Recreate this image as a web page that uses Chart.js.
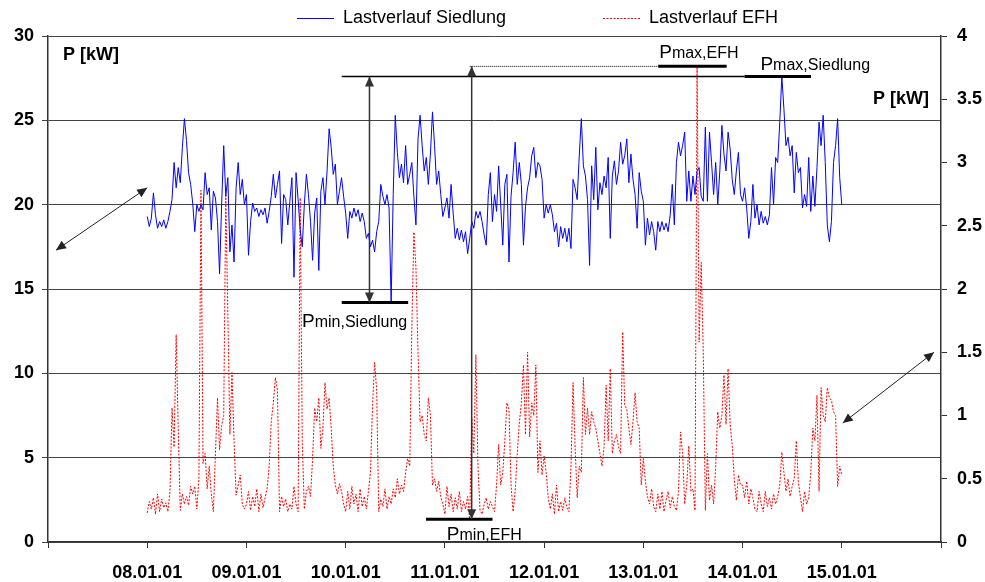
<!DOCTYPE html>
<html>
<head>
<meta charset="utf-8">
<title>Lastverlauf</title>
<script src="https://cdn.jsdelivr.net/npm/chart.js@4/dist/chart.umd.min.js"></script>
<style>
  html, body { margin: 0; padding: 0; background: #ffffff; }
  canvas { display: block; }
</style>
</head>
<body>
<canvas id="chart" width="985" height="582"></canvas>
<script>
// Day tick labels (value 0 = 08.01.01 00:00, one unit per day)
const tickLabels = ['08.01.01', '09.01.01', '10.01.01', '11.01.01', '12.01.01', '13.01.01', '14.01.01', '15.01.01'];
const seriesNames = ['Lastverlauf Siedlung', 'Lastverlauf EFH'];
const stepsPerDay = 48; // half-hourly values

// Settlement load [kW], left axis — one row per day
const lastSiedlung = [
  19.3, 18.7, 19.2, 20.7, 19.4, 18.6, 19.0, 18.7, 19.1, 18.6, 19.0, 19.6, 20.3, 22.5, 21.0, 22.2, 21.3, 23.4, 25.1, 23.8, 21.9, 21.2, 20.1, 18.4,
  20.0, 19.6, 20.0, 19.7, 21.9, 20.6, 21.0, 18.5, 20.8, 20.4, 19.0, 15.9, 20.0, 23.5, 20.5, 21.6, 17.2, 18.8, 16.6, 21.0, 22.5, 20.6, 21.5, 20.0,
  20.6, 17.0, 19.0, 20.1, 19.6, 19.8, 19.3, 19.7, 19.4, 19.8, 18.9, 19.6, 20.5, 21.8, 20.4, 21.2, 22.0, 17.7, 20.6, 20.3, 18.8, 20.2, 21.6, 15.7,
  21.9, 20.3, 18.5, 17.5, 20.0, 21.8, 20.6, 19.0, 16.7, 19.5, 20.4, 16.1, 20.8, 21.6, 20.0, 22.0, 24.5, 23.4, 21.8, 22.4, 20.0, 20.8, 21.6, 20.5,
  19.5, 18.0, 19.6, 19.2, 19.8, 19.3, 19.7, 19.0, 19.5, 19.0, 18.0, 18.3, 17.5, 17.9, 17.2, 18.4, 19.0, 21.2, 20.5, 20.0, 20.6, 19.8, 14.2, 20.6,
  25.3, 23.1, 21.6, 22.4, 21.3, 23.5, 21.2, 21.8, 22.5, 20.5, 18.8, 23.9, 25.3, 23.5, 22.0, 22.8, 21.2, 23.0, 25.5, 23.5, 21.2, 22.0, 20.6, 19.3,
  19.8, 20.4, 19.2, 21.2, 19.5, 18.0, 18.6, 17.9, 18.5, 17.8, 18.4, 17.1, 18.0, 19.0, 18.6, 19.6, 19.2, 19.6, 19.0, 18.2, 17.6, 20.6, 21.9, 19.0,
  20.6, 19.6, 22.3, 20.0, 17.6, 21.2, 21.8, 16.6, 20.5, 21.9, 23.7, 21.2, 22.5, 21.2, 17.6, 19.9, 21.0, 21.6, 22.9, 23.4, 21.6, 22.5, 22.3, 21.5,
  19.2, 20.0, 19.5, 20.0, 19.4, 18.4, 18.9, 17.5, 18.7, 18.0, 18.6, 17.8, 18.6, 17.4, 21.5, 21.0, 20.3, 22.9, 25.1, 22.3, 21.7, 20.3, 16.4, 22.3,
  20.3, 23.4, 19.7, 21.3, 20.6, 21.7, 21.0, 22.8, 18.0, 21.7, 22.6, 21.2, 22.0, 23.7, 22.4, 22.9, 23.9, 21.3, 23.0, 21.5, 20.6, 18.6, 21.9, 20.8,
  20.2, 17.6, 19.2, 18.2, 19.0, 18.4, 17.3, 19.0, 18.4, 19.0, 18.5, 18.9, 18.4, 19.4, 21.2, 18.8, 22.5, 23.7, 22.9, 23.5, 24.3, 20.2, 22.0, 20.2,
  21.7, 20.6, 22.0, 22.2, 20.5, 20.2, 24.6, 20.2, 24.3, 22.5, 20.6, 22.5, 20.0, 22.0, 24.7, 23.0, 22.0, 24.3, 23.3, 21.5, 20.6, 22.0, 23.1, 20.6,
  20.2, 21.0, 19.8, 18.0, 19.0, 21.2, 19.2, 20.0, 18.8, 19.6, 18.9, 19.3, 18.8, 19.4, 22.2, 20.0, 22.8, 22.5, 24.9, 27.6, 25.7, 23.5, 24.0, 22.9,
  23.5, 20.7, 23.1, 21.9, 22.2, 19.8, 20.6, 19.9, 22.8, 19.6, 21.7, 19.9, 22.2, 24.9, 23.5, 25.3, 22.5, 18.8, 17.8, 19.0, 22.5, 23.5, 25.1, 21.6,
  20.0
];

// Single-family house load [kW], right axis — one row per day
const lastEFH = [
  0.23, 0.32, 0.26, 0.35, 0.22, 0.38, 0.24, 0.34, 0.27, 0.31, 0.24, 0.40, 1.06, 0.75, 1.64, 0.90, 0.25, 0.38, 0.30, 0.36, 0.29, 0.44, 0.38, 0.44,
  0.26, 0.50, 2.78, 0.62, 0.70, 0.42, 0.60, 0.38, 0.24, 0.70, 1.14, 0.73, 0.92, 1.00, 2.74, 1.80, 0.85, 1.34, 0.80, 0.37, 0.45, 0.53, 0.30, 0.26,
  0.30, 0.40, 0.25, 0.36, 0.28, 0.42, 0.24, 0.38, 0.27, 0.35, 0.42, 0.60, 0.95, 1.10, 1.30, 1.20, 0.24, 0.36, 0.28, 0.34, 0.24, 0.30, 0.26, 0.44,
  0.30, 0.24, 2.72, 0.80, 0.26, 0.40, 0.44, 0.36, 0.66, 1.06, 0.95, 1.14, 0.74, 0.90, 1.26, 1.05, 1.14, 0.90, 0.60, 0.45, 0.38, 0.46, 0.40, 0.30,
  0.24, 0.40, 0.26, 0.44, 0.30, 0.38, 0.24, 0.42, 0.28, 0.36, 0.26, 0.40, 0.55, 1.08, 1.42, 1.20, 0.24, 0.34, 0.28, 0.42, 0.26, 0.36, 0.30, 0.42,
  0.35, 0.50, 0.38, 0.45, 0.40, 0.55, 0.66, 0.60, 1.69, 2.45, 2.17, 1.50, 0.95, 1.00, 0.85, 0.80, 1.14, 1.00, 0.45, 0.50, 0.40, 0.48, 0.36, 0.30,
  0.22, 0.44, 0.28, 0.38, 0.24, 0.35, 0.26, 0.40, 0.24, 0.32, 0.26, 0.36, 0.18, 0.98, 0.70, 1.48, 0.60, 0.25, 0.22, 0.30, 0.35, 0.26, 0.32, 0.28,
  0.24, 0.45, 0.77, 0.45, 0.55, 0.80, 1.10, 1.05, 0.45, 0.24, 0.40, 0.70, 0.94, 1.10, 1.40, 0.85, 1.50, 0.83, 1.10, 1.00, 1.40, 0.55, 0.80, 0.53,
  0.68, 0.55, 0.35, 0.26, 0.38, 0.22, 0.45, 0.24, 0.32, 0.25, 0.35, 0.27, 0.24, 0.60, 1.26, 0.75, 0.35, 0.60, 0.55, 1.30, 0.85, 1.06, 0.85, 1.03,
  0.95, 0.90, 0.80, 0.70, 0.60, 0.75, 1.24, 0.80, 1.37, 0.70, 0.80, 0.85, 0.75, 0.70, 1.66, 1.08, 1.05, 0.90, 0.77, 0.95, 1.18, 0.95, 0.90, 0.45,
  0.66, 0.48, 0.36, 0.30, 0.42, 0.28, 0.24, 0.38, 0.26, 0.40, 0.24, 0.33, 0.40, 0.27, 0.36, 0.28, 0.25, 0.40, 0.87, 0.70, 0.30, 0.45, 0.76, 0.40,
  0.42, 0.25, 3.76, 1.58, 2.21, 1.50, 0.25, 0.70, 0.33, 0.45, 0.30, 0.60, 1.03, 0.90, 1.00, 1.32, 0.93, 1.37, 0.93, 0.76, 0.50, 0.33, 0.53, 0.45,
  0.45, 0.35, 0.48, 0.30, 0.42, 0.35, 0.26, 0.24, 0.40, 0.30, 0.24, 0.40, 0.28, 0.35, 0.26, 0.38, 0.30, 0.36, 0.45, 0.71, 0.55, 0.40, 0.50, 0.36,
  0.44, 0.50, 0.80, 0.48, 0.35, 0.24, 0.40, 0.30, 0.35, 0.55, 0.90, 0.80, 1.16, 0.40, 1.22, 1.00, 0.95, 1.22, 1.14, 1.12, 1.03, 1.00, 0.44, 0.60,
  0.53
];

const toPoints = arr => arr.map((v, i) => ({ x: i / stepsPerDay, y: v }));

const FONT = "'Liberation Sans', Arial, sans-serif";

// Extremes marked on the chart
const pMaxSiedlung = Math.max(...lastSiedlung);
const pMinSiedlung = Math.min(...lastSiedlung);
const pMaxEFH = Math.max(...lastEFH);
const pMinEFH = Math.min(...lastEFH);

function arrowHead(ctx, x1, y1, x2, y2, len, half) {
  // filled head at (x2, y2), pointing away from (x1, y1)
  const a = Math.atan2(y2 - y1, x2 - x1);
  ctx.beginPath();
  ctx.moveTo(x2, y2);
  ctx.lineTo(x2 - len * Math.cos(a) + half * Math.sin(a), y2 - len * Math.sin(a) - half * Math.cos(a));
  ctx.lineTo(x2 - len * Math.cos(a) - half * Math.sin(a), y2 - len * Math.sin(a) + half * Math.cos(a));
  ctx.closePath();
  ctx.fill();
}

function doubleArrow(ctx, x1, y1, x2, y2, color, width) {
  ctx.save();
  ctx.strokeStyle = color;
  ctx.fillStyle = color;
  ctx.lineWidth = width;
  ctx.beginPath();
  ctx.moveTo(x1, y1);
  ctx.lineTo(x2, y2);
  ctx.stroke();
  arrowHead(ctx, x1, y1, x2, y2, 10, 4.5);
  arrowHead(ctx, x2, y2, x1, y1, 10, 4.5);
  ctx.restore();
}

function hLine(ctx, x1, x2, y, width, dash) {
  ctx.save();
  ctx.strokeStyle = '#000';
  ctx.lineWidth = width;
  if (dash) ctx.setLineDash(dash);
  ctx.beginPath();
  ctx.moveTo(x1, y);
  ctx.lineTo(x2, y);
  ctx.stroke();
  ctx.restore();
}

// "P" followed by a smaller index text, sharing one baseline
function pLabel(ctx, x, y, index) {
  ctx.save();
  ctx.fillStyle = '#000';
  ctx.textBaseline = 'alphabetic';
  ctx.textAlign = 'left';
  ctx.font = '19px ' + FONT;
  ctx.fillText('P', x, y);
  const w = ctx.measureText('P').width;
  ctx.font = '16px ' + FONT;
  ctx.fillText(index, x + w, y);
  ctx.restore();
}

const markers = {
  id: 'markers',
  afterDatasetsDraw(chart) {
    const ctx = chart.ctx;
    const xs = chart.scales.x, yl = chart.scales.y, yr = chart.scales.y2;
    const X = d => xs.getPixelForValue(d);

    // maximum levels
    const ySMax = yl.getPixelForValue(pMaxSiedlung);
    const yEMax = yr.getPixelForValue(pMaxEFH);
    hLine(ctx, X(1.96), X(6.02), ySMax, 1.5);
    hLine(ctx, X(6.02), X(6.69), ySMax, 3);
    hLine(ctx, X(3.25), X(5.15), yEMax, 1, [1, 1]);
    hLine(ctx, X(5.15), X(5.84), yEMax, 3);

    // minimum levels
    const ySMin = yl.getPixelForValue(pMinSiedlung);
    const yEMin = yr.getPixelForValue(pMinEFH);
    hLine(ctx, X(1.96), X(2.63), ySMin, 3);
    hLine(ctx, X(2.81), X(3.48), yEMin, 3);

    // spans between max and min
    doubleArrow(ctx, X(2.24), ySMax, X(2.24), ySMin, '#333', 1.5);
    doubleArrow(ctx, X(3.27), yEMax, X(3.27), yEMin, '#333', 1.5);

    // axis assignment arrows
    doubleArrow(ctx, X(-0.92), yl.getPixelForValue(17.3), X(0.0), yl.getPixelForValue(21.0), '#222', 1);
    doubleArrow(ctx, X(7.01), yr.getPixelForValue(0.94), X(7.93), yr.getPixelForValue(1.50), '#222', 1);

    // labels
    pLabel(ctx, X(1.56), ySMin + 25, 'min,Siedlung');
    pLabel(ctx, X(3.02), yEMin + 21, 'min,EFH');
    pLabel(ctx, X(5.16), yEMax - 8, 'max,EFH');
    pLabel(ctx, X(6.18), ySMax - 6, 'max,Siedlung');

    // axis captions
    ctx.save();
    ctx.fillStyle = '#000';
    ctx.font = 'bold 18px ' + FONT;
    ctx.textBaseline = 'middle';
    ctx.textAlign = 'left';
    ctx.fillText('P [kW]', xs.left + 15, yl.getPixelForValue(28.9));
    ctx.textAlign = 'right';
    ctx.fillText('P [kW]', xs.right - 12, yr.getPixelForValue(3.5));
    ctx.restore();
  },
  afterDraw(chart) {
    // legend row above the plot
    const ctx = chart.ctx;
    const ds = chart.data.datasets;
    const items = [{ x: 297 }, { x: 603 }];
    ctx.save();
    ctx.font = '18px ' + FONT;
    ctx.textBaseline = 'middle';
    ctx.textAlign = 'left';
    items.forEach((it, i) => {
      const d = ds[i];
      ctx.strokeStyle = d.borderColor;
      ctx.lineWidth = 1;
      ctx.setLineDash(d.borderDash || []);
      ctx.beginPath();
      ctx.moveTo(it.x, 18.5);
      ctx.lineTo(it.x + 37, 18.5);
      ctx.stroke();
      ctx.setLineDash([]);
      ctx.fillStyle = '#000';
      ctx.fillText(d.label, it.x + 46, 18);
    });
    ctx.restore();
  }
};

new Chart(document.getElementById('chart'), {
  type: 'line',
  data: {
    datasets: [
      {
        label: seriesNames[0],
        data: toPoints(lastSiedlung),
        yAxisID: 'y',
        borderColor: '#0000ff',
        borderWidth: 1,
        pointRadius: 0,
        tension: 0
      },
      {
        label: seriesNames[1],
        data: toPoints(lastEFH),
        yAxisID: 'y2',
        borderColor: '#ff0000',
        borderWidth: 1,
        borderDash: [2, 1.5],
        pointRadius: 0,
        tension: 0
      }
    ]
  },
  options: {
    responsive: false,
    animation: false,
    events: [],
    layout: { padding: { top: 36, left: 0, right: 0, bottom: 0 } },
    plugins: {
      legend: { display: false },
      tooltip: { enabled: false },
      title: { display: false }
    },
    scales: {
      x: {
        type: 'linear',
        min: -1,
        max: 8,
        afterFit: s => { s.height = 40; },
        ticks: {
          stepSize: 1,
          autoSkip: false,
          maxRotation: 0,
          padding: 14,
          color: '#000',
          font: { family: FONT, size: 18, weight: 'bold' },
          callback: v => tickLabels[v] || ''
        },
        grid: { drawOnChartArea: false, drawTicks: true, tickLength: 6, color: '#333' },
        border: { display: true, color: '#333', width: 1.5 }
      },
      y: {
        position: 'left',
        min: 0,
        max: 30,
        afterFit: s => { s.width = 48; },
        ticks: {
          stepSize: 5,
          padding: 8,
          color: '#000',
          font: { family: FONT, size: 18, weight: 'bold' }
        },
        grid: { color: '#444', lineWidth: 1, tickLength: 6, drawTicks: true },
        border: { display: true, color: '#333', width: 1.5 }
      },
      y2: {
        position: 'right',
        min: 0,
        max: 4,
        afterFit: s => { s.width = 44; },
        ticks: {
          stepSize: 0.5,
          padding: 10,
          color: '#000',
          font: { family: FONT, size: 18, weight: 'bold' },
          callback: v => String(Number(v))
        },
        grid: { drawOnChartArea: false, drawTicks: true, tickLength: 6, color: '#333' },
        border: { display: true, color: '#333', width: 1.5 }
      }
    }
  },
  plugins: [markers]
});
</script>
</body>
</html>
